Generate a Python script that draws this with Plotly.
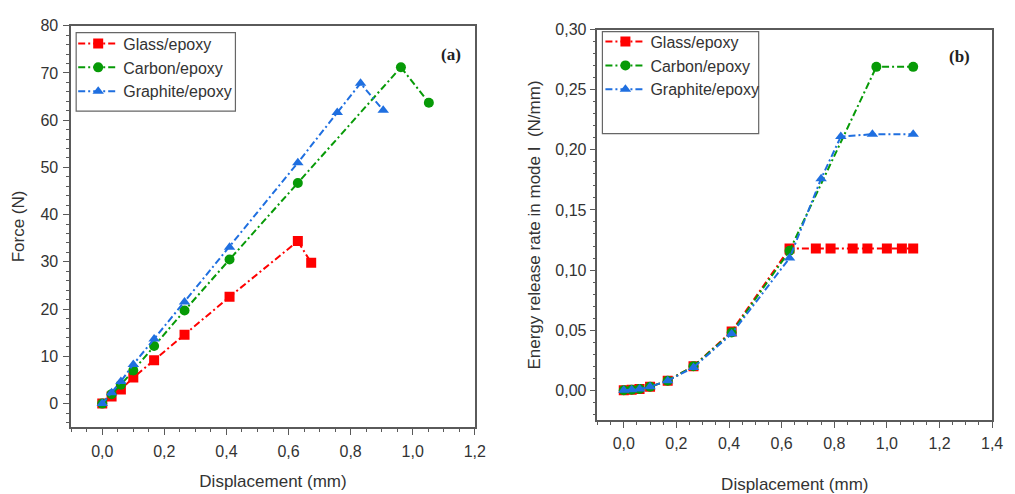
import plotly.graph_objects as go

# Panel (a): Force vs displacement
glass_x_a = [0, 0.03, 0.06, 0.10, 0.167, 0.265, 0.41, 0.63, 0.673]
glass_y_a = [0, 1.5, 3.0, 5.5, 9.2, 14.6, 22.6, 34.4, 29.8]
carbon_x_a = [0, 0.03, 0.06, 0.10, 0.167, 0.265, 0.41, 0.63, 0.962, 1.052]
carbon_y_a = [0, 2.0, 4.0, 7.0, 12.2, 19.7, 30.5, 46.7, 71.2, 63.7]
graph_x_a = [0, 0.03, 0.06, 0.10, 0.167, 0.265, 0.41, 0.63, 0.757, 0.832, 0.905]
graph_y_a = [0, 2.3, 4.7, 8.3, 13.7, 21.5, 33.1, 51.0, 61.6, 67.8, 62.1]

# Panel (b): Energy release rate vs displacement
glass_x_b = [0, 0.03, 0.06, 0.10, 0.167, 0.265, 0.41, 0.63, 0.73, 0.786, 0.87, 0.926, 1.0, 1.057, 1.10]
glass_y_b = [0, 0.0005, 0.001, 0.003, 0.008, 0.020, 0.049, 0.118, 0.118, 0.118, 0.118, 0.118, 0.118, 0.118, 0.118]
carbon_x_b = [0, 0.03, 0.06, 0.10, 0.167, 0.265, 0.41, 0.63, 0.96, 1.10]
carbon_y_b = [0, 0.0005, 0.001, 0.003, 0.008, 0.020, 0.048, 0.116, 0.269, 0.269]
graph_x_b = [0, 0.03, 0.06, 0.10, 0.167, 0.265, 0.41, 0.63, 0.75, 0.825, 0.945, 1.10]
graph_y_b = [0, 0.0005, 0.001, 0.003, 0.008, 0.019, 0.047, 0.110, 0.176, 0.211, 0.213, 0.213]

names = ["Glass/epoxy", "Carbon/epoxy", "Graphite/epoxy"]
colors = ["#ff0000", "#079a07", "#1f6fe0"]
symbols = ["square", "circle", "triangle-up"]
DASH = "7px,3px,2px,3px"

fig = go.Figure()
sets_a = [(glass_x_a, glass_y_a), (carbon_x_a, carbon_y_a), (graph_x_a, graph_y_a)]
sets_b = [(glass_x_b, glass_y_b), (carbon_x_b, carbon_y_b), (graph_x_b, graph_y_b)]
for i, (x, y) in enumerate(sets_a):
    fig.add_trace(go.Scatter(x=x, y=y, name=names[i], mode="lines+markers",
                             line=dict(color=colors[i], width=2, dash=DASH),
                             marker=dict(color=colors[i], symbol=symbols[i], size=10),
                             xaxis="x", yaxis="y", legend="legend"))
for i, (x, y) in enumerate(sets_b):
    fig.add_trace(go.Scatter(x=x, y=y, name=names[i], mode="lines+markers",
                             line=dict(color=colors[i], width=2, dash=DASH),
                             marker=dict(color=colors[i], symbol=symbols[i], size=10),
                             xaxis="x2", yaxis="y2", legend="legend2"))

W, H = 1015, 494
def dx(a, b):
    return [a / W, b / W]
def dy(top, bottom):
    return [(H - bottom) / H, (H - top) / H]

axis_common = dict(showline=True, linecolor="#5a5a5a", linewidth=1.5, mirror=True,
                   ticks="outside", ticklen=6, tickcolor="#5a5a5a", showgrid=False,
                   zeroline=False, tickfont=dict(size=16, color="#333333"),
                   minor=dict(ticks="outside", ticklen=3, tickcolor="#5a5a5a"))

legend_common = dict(xanchor="left", yanchor="top", borderwidth=0, bgcolor="rgba(0,0,0,0)",
                     font=dict(size=16, color="#333333"), tracegroupgap=0, itemwidth=40)

fig.update_layout(
    width=W, height=H, margin=dict(l=0, r=0, t=0, b=0),
    paper_bgcolor="white", plot_bgcolor="white",
    separators=", ",
    font=dict(family="Liberation Sans, Arial, sans-serif", color="#333333"),
    xaxis=dict(domain=dx(72, 480), range=[-0.1, 1.2], dtick=0.2, tickformat=".1f",
               anchor="y", ticklabelstandoff=3,
               title=dict(text="Displacement (mm)", font=dict(size=17), standoff=16),
               **axis_common),
    yaxis=dict(domain=dy(18, 427), range=[-5, 80], dtick=10, anchor="x", ticklabelstandoff=2,
               title=dict(text="Force (N)", font=dict(size=17), standoff=12),
               **axis_common),
    xaxis2=dict(domain=dx(604, 1003), range=[-0.1, 1.4], dtick=0.2, tickformat=".1f",
                anchor="y2", ticklabelstandoff=2,
                title=dict(text="Displacement (mm)", font=dict(size=17), standoff=30),
                **axis_common),
    yaxis2=dict(domain=dy(22, 420), range=[-0.025, 0.30], dtick=0.05, tickformat=".2f",
                anchor="x2", title=dict(text="Energy release rate in mode I  (N/mm)", font=dict(size=17), standoff=10),
                **axis_common),
    legend=dict(x=74 / W, y=(H - 19) / H, **legend_common),
    legend2=dict(x=607 / W, y=(H - 17) / H, **legend_common),
    shapes=[
        dict(type="rect", xref="paper", yref="paper", x0=77 / W, x1=238 / W,
             y0=(H - 105) / H, y1=(H - 25) / H, line=dict(color="#666666", width=1.2), layer="below"),
        dict(type="rect", xref="paper", yref="paper", x0=609 / W, x1=767 / W,
             y0=(H - 128) / H, y1=(H - 24) / H, line=dict(color="#666666", width=1.2), layer="below"),
    ],
    annotations=[
        dict(text="<b>(a)</b>", x=456 / W, y=(H - 36) / H, xref="paper", yref="paper",
             showarrow=False, font=dict(family="Liberation Serif, Times New Roman, serif", size=17, color="#222")),
        dict(text="<b>(b)</b>", x=983 / W, y=(H - 38) / H, xref="paper", yref="paper",
             showarrow=False, font=dict(family="Liberation Serif, Times New Roman, serif", size=17, color="#222")),
    ],
)

fig.write_html("out.html")
